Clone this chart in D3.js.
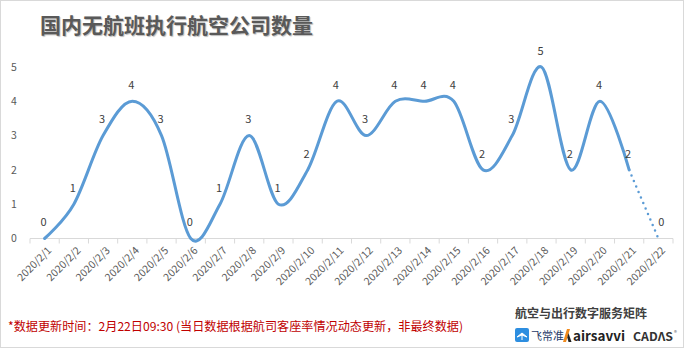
<!DOCTYPE html>
<html>
<head>
<meta charset="utf-8">
<script src="https://cdn.jsdelivr.net/npm/d3@7"></script>
<style>
  body { margin: 0; background: #fff; }
  text { font-family: "Noto Sans CJK SC", "Noto Sans", sans-serif; }
</style>
</head>
<body>
<div id="chart"></div>
<script>
const dates = ["2020/2/1","2020/2/2","2020/2/3","2020/2/4","2020/2/5","2020/2/6","2020/2/7",
  "2020/2/8","2020/2/9","2020/2/10","2020/2/11","2020/2/12","2020/2/13","2020/2/14",
  "2020/2/15","2020/2/16","2020/2/17","2020/2/18","2020/2/19","2020/2/20","2020/2/21","2020/2/22"];
const counts = [0,1,3,4,3,0,1,3,1,2,4,3,4,4,4,2,3,5,2,4,2,0];
const yTicks = [0,1,2,3,4,5];
const title = "国内无航班执行航空公司数量";
const note = "*数据更新时间：2月22日09:30 (当日数据根据航司客座率情况动态更新，非最终数据)";

const width = 690, height = 354;
const margin = ({top: 67, right: 17, bottom: 115.5, left: 30});

const x = d3.scaleBand()
    .domain(dates)
    .range([margin.left, width - margin.right])
    .padding(0);
const y = d3.scaleLinear()
    .domain([0, 5])
    .range([height - margin.bottom, margin.top]);
const cx = d => x(d) + x.bandwidth() / 2;

const svg = d3.select("#chart").append("svg")
    .attr("width", width).attr("height", height);

// frame
svg.append("rect")
    .attr("x", 0.5).attr("y", 0.5)
    .attr("width", 683).attr("height", 347)
    .attr("fill", "#fff").attr("stroke", "#d9d9d9");

// title
svg.append("text")
    .attr("x", 40).attr("y", 33)
    .attr("font-size", 21).attr("font-weight", "bold")
    .attr("fill", "#595959")
    .attr("style", "text-shadow: 1px 1px 1px #bbb")
    .text(title);

// x axis
const xAxis = svg.append("g")
    .attr("transform", `translate(0,${y(0)})`);
xAxis.append("line")
    .attr("x1", margin.left).attr("x2", width - margin.right)
    .attr("stroke", "#d9d9d9");
xAxis.selectAll("line.tick")
    .data(dates.concat([null]))
    .enter().append("line")
    .attr("class", "tick")
    .attr("x1", (d, i) => i < dates.length ? x(d) : x(dates[dates.length - 1]) + x.bandwidth())
    .attr("x2", (d, i) => i < dates.length ? x(d) : x(dates[dates.length - 1]) + x.bandwidth())
    .attr("y1", 0).attr("y2", 5)
    .attr("stroke", "#d9d9d9");
xAxis.selectAll("text")
    .data(dates)
    .enter().append("text")
    .attr("text-anchor", "end")
    .attr("font-size", 10.5)
    .attr("fill", "#595959")
    .attr("transform", d => `translate(${cx(d) + 5},${10}) rotate(-45)`)
    .attr("dy", "0.35em")
    .text(d => d);

// y axis labels
svg.append("g").selectAll("text")
    .data(yTicks)
    .enter().append("text")
    .attr("x", 14).attr("y", d => y(d))
    .attr("dy", "0.35em")
    .attr("text-anchor", "middle")
    .attr("font-size", 10.5)
    .attr("fill", "#595959")
    .text(d => d);

// line
const pts = dates.map((d, i) => [cx(d), y(counts[i])]);
const solid = pts.slice(0, pts.length - 1);
svg.append("path")
    .attr("d", d3.line().curve(d3.curveCardinal.tension(0))(solid))
    .attr("fill", "none")
    .attr("stroke", "#5b9bd5")
    .attr("stroke-width", 3)
    .attr("stroke-linecap", "round");
svg.append("path")
    .attr("d", d3.line()(pts.slice(pts.length - 2)))
    .attr("fill", "none")
    .attr("stroke", "#5b9bd5")
    .attr("stroke-width", 2.5)
    .attr("stroke-linecap", "round")
    .attr("stroke-dasharray", "0,6");

// value labels
svg.append("g").selectAll("text")
    .data(dates)
    .enter().append("text")
    .attr("x", (d, i) => cx(d) + (i === dates.length - 1 ? 3 : -1))
    .attr("y", (d, i) => y(counts[i]) - 16)
    .attr("dy", "0.35em")
    .attr("text-anchor", "middle")
    .attr("font-size", 11)
    .attr("fill", "#404040")
    .text((d, i) => counts[i]);

// footer note
svg.append("text")
    .attr("x", 8).attr("y", 331)
    .attr("font-size", 12)
    .attr("fill", "#c00000")
    .attr("textLength", 455)
    .attr("lengthAdjust", "spacingAndGlyphs")
    .text(note);

// brand block
svg.append("text")
    .attr("x", 515).attr("y", 318)
    .attr("font-size", 12)
    .attr("font-weight", "bold")
    .attr("fill", "#404040")
    .text("航空与出行数字服务矩阵");

const logo = svg.append("g");
logo.append("rect")
    .attr("x", 515).attr("y", 328).attr("width", 14).attr("height", 14).attr("rx", 2)
    .attr("fill", "#2d8ee0");
logo.append("path")
    .attr("d", "M517,337 L522,333 L527,337 L522,335 Z M522,333 L522,340")
    .attr("fill", "#fff").attr("stroke", "#fff").attr("stroke-width", 1);
logo.append("text")
    .attr("x", 531).attr("y", 340)
    .attr("font-size", 11).attr("fill", "#1f3a68")
    .text("飞常准");
logo.append("path")
    .attr("d", "M563,342 L567,329 L570,329 L566,342 Z")
    .attr("fill", "#f08a1c");
logo.append("path")
    .attr("d", "M568.5,333 L571.5,342 L568.5,342 L567.3,337.5 Z")
    .attr("fill", "#222");
logo.append("text")
    .attr("x", 573).attr("y", 341)
    .attr("font-size", 13).attr("font-family", "Lato, sans-serif").attr("font-weight", "bold")
    .attr("fill", "#222")
    .attr("textLength", 52)
    .attr("lengthAdjust", "spacingAndGlyphs")
    .text("airsavvi");
logo.append("text")
    .attr("x", 633).attr("y", 341)
    .attr("font-size", 12).attr("font-family", "Lato, sans-serif").attr("font-weight", "bold")
    .attr("fill", "#333")
    .attr("textLength", 40)
    .attr("lengthAdjust", "spacingAndGlyphs")
    .text("CADΛS");
logo.append("text")
    .attr("x", 674).attr("y", 335)
    .attr("font-size", 6).attr("fill", "#666")
    .text("®");
</script>
</body>
</html>
